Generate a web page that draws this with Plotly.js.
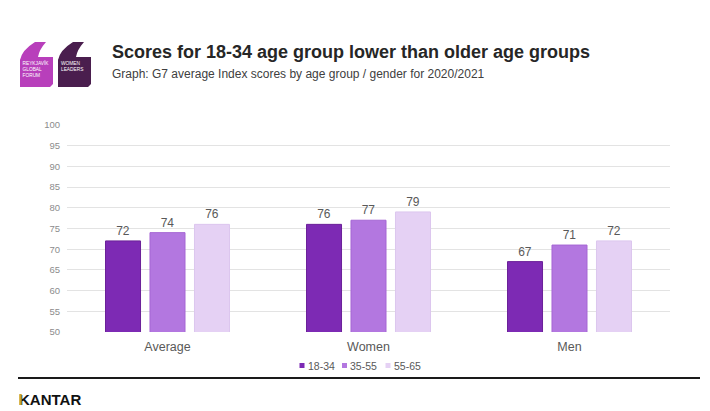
<!DOCTYPE html>
<html>
<head>
<meta charset="utf-8">
<script src="https://cdn.plot.ly/plotly-3.0.1.min.js"></script>
<style>
  html, body { margin: 0; padding: 0; background: #fff; }
  #wrap { position: relative; width: 710px; height: 411px; overflow: hidden; }
  #chart { position: absolute; left: 0; top: 0; width: 710px; height: 411px; }
  #deco { position: absolute; left: 0; top: 0; pointer-events: none; }
</style>
</head>
<body>
<div id="wrap">
  <div id="chart"></div>
  <svg id="deco" width="710" height="411" xmlns="http://www.w3.org/2000/svg">
    <!-- Reykjavik Global Forum logo -->
    <path d="M20,87 L20,60 Q22,50 35,42 L46,42 Q39,50 38,57 L53,57 L53,84 L50,87 Z" fill="#B83FBB"/>
    <text x="22.5" y="64.5" font-family="Liberation Sans, Arial, sans-serif" font-size="4.8" fill="#fff">REYKJAVÍK</text>
    <text x="22.5" y="70.5" font-family="Liberation Sans, Arial, sans-serif" font-size="4.8" fill="#fff">GLOBAL</text>
    <text x="22.5" y="76.5" font-family="Liberation Sans, Arial, sans-serif" font-size="4.8" fill="#fff">FORUM</text>
    <!-- Women Leaders logo -->
    <path d="M58,87 L58,60 Q60,50 73,42 L84,42 Q77,50 76,57 L91,57 L91,84 L88,87 Z" fill="#4A1E4E"/>
    <text x="61" y="64.5" font-family="Liberation Sans, Arial, sans-serif" font-size="4.8" fill="#fff">WOMEN</text>
    <text x="61" y="70.5" font-family="Liberation Sans, Arial, sans-serif" font-size="4.8" fill="#fff">LEADERS</text>
    <!-- footer rule -->
    <rect x="18" y="377" width="682" height="2" fill="#1a1a1a"/>
    <!-- KANTAR -->
    <text x="19" y="405" font-family="Liberation Sans, Arial, sans-serif" font-size="15" font-weight="bold" fill="#111">KANTAR</text>
    <rect x="19.3" y="394" width="2.4" height="11" fill="#C9A227"/>
  </svg>
</div>
<script>
const categories = ["Average", "Women", "Men"];
const seriesNames = ["18-34", "35-55", "55-65"];
const values_18_34 = [72, 76, 67];
const values_35_55 = [74, 77, 71];
const values_55_65 = [76, 79, 72];
const yTickVals = [50, 55, 60, 65, 70, 75, 80, 85, 90, 95, 100];

const fills = ["#7D2AB4", "#B377E0", "#E5D1F4"];
const edges = ["#6B2199", "#A566D4", "#DCC6EE"];
const seriesValues = [values_18_34, values_35_55, values_55_65];

// plot-area geometry in pixels (for converting legend positions to paper coords)
const PL = 67, PR = 670, PT = 125, PB = 332;
const px2x = p => (p - PL) / (PR - PL);
const py2y = p => (PB - p) / (PB - PT);

const traces = seriesValues.map((vals, i) => ({
  type: "bar",
  name: seriesNames[i],
  x: categories,
  y: vals,
  base: 0,
  marker: { color: fills[i], line: { color: edges[i], width: 1 } },
  text: vals.map(String),
  textposition: "outside",
  textfont: { family: "Liberation Sans, Arial, sans-serif", size: 12, color: "#595959" },
  cliponaxis: false,
  showlegend: false,
  hoverinfo: "skip"
}));

// compact legend: small square + label per series
const legendSquareX = [302, 344.5, 388];
const legendTextX = [307, 348.5, 393];
const legendY = 365.5;
const shapes = seriesNames.map((n, i) => ({
  type: "rect",
  xref: "paper", yref: "paper",
  xsizemode: "pixel", ysizemode: "pixel",
  xanchor: px2x(legendSquareX[i]), yanchor: py2y(legendY),
  x0: -2.5, x1: 2.5, y0: -2.5, y1: 2.5,
  fillcolor: fills[i],
  line: { width: 0 }
}));
const legendAnn = seriesNames.map((n, i) => ({
  text: n,
  xref: "paper", yref: "paper",
  x: px2x(legendTextX[i]), xanchor: "left",
  y: py2y(legendY), yanchor: "middle",
  showarrow: false,
  borderpad: 0,
  font: { family: "Liberation Sans, Arial, sans-serif", size: 10.5, color: "#595959" }
}));

const layout = {
  width: 710,
  height: 411,
  paper_bgcolor: "#fff",
  plot_bgcolor: "#fff",
  margin: { l: PL, r: 710 - PR, t: PT, b: 411 - PB },
  font: { family: "Liberation Sans, Arial, sans-serif", color: "#595959" },
  title: {
    text: "<b>Scores for 18-34 age group lower than older age groups</b>",
    font: { family: "Liberation Sans, Arial, sans-serif", size: 18, color: "#262626" },
    xref: "container", yref: "container",
    x: 112 / 710, xanchor: "left",
    y: 1 - 52 / 411, yanchor: "middle"
  },
  annotations: [{
    text: "Graph: G7 average Index scores by age group / gender for 2020/2021",
    xref: "paper", yref: "paper",
    x: px2x(111), xanchor: "left",
    y: py2y(74), yanchor: "middle",
    showarrow: false,
    borderpad: 0,
    font: { family: "Liberation Sans, Arial, sans-serif", size: 12, color: "#404040" }
  }].concat(legendAnn),
  shapes: shapes,
  barmode: "group",
  bargap: 0.336,
  bargroupgap: 0.213,
  xaxis: {
    type: "category",
    showgrid: false,
    showline: false,
    zeroline: false,
    ticks: "",
    ticklabelstandoff: 5,
    tickfont: { size: 12.5, color: "#595959" },
    fixedrange: true
  },
  yaxis: {
    range: [50, 100],
    tickmode: "array",
    tickvals: yTickVals,
    ticktext: yTickVals.map(String),
    showgrid: true,
    gridcolor: "#E3E3E3",
    gridwidth: 1,
    zeroline: false,
    showline: false,
    ticks: "",
    ticklabelstandoff: 6,
    tickfont: { size: 9.5, color: "#8C8C8C" },
    fixedrange: true
  },
  showlegend: false
};

Plotly.newPlot("chart", traces, layout, { displayModeBar: false, staticPlot: true });
</script>
</body>
</html>
